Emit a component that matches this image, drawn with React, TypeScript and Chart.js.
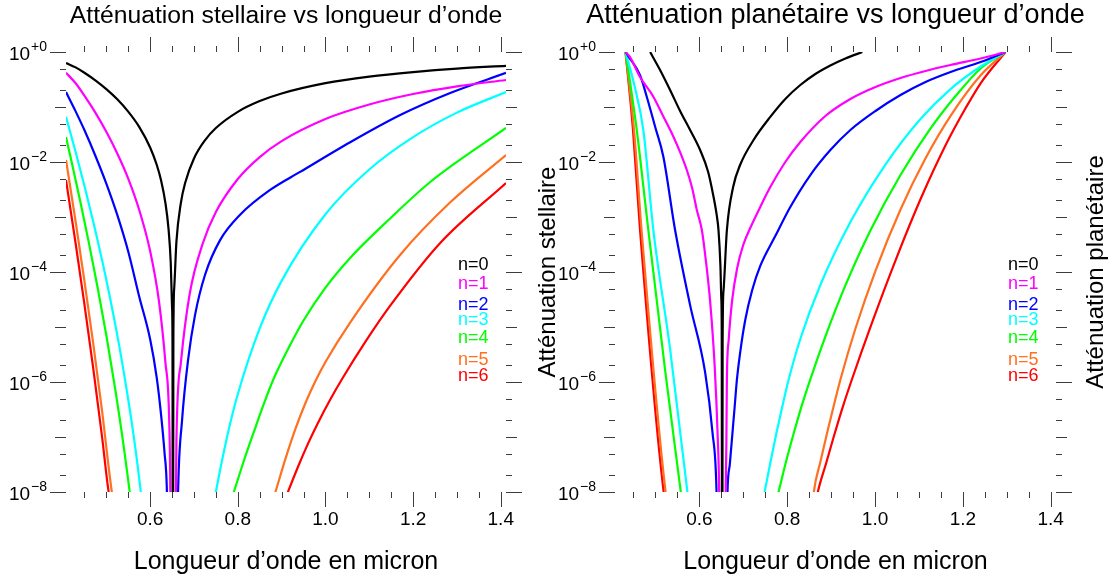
import React, { useEffect, useRef } from "react";
import { Chart, registerables } from "chart.js";

Chart.register(...registerables);

// ---------- series meta ----------
const seriesLabels = ["n=0", "n=1", "n=2", "n=3", "n=4", "n=5", "n=6"];
const seriesColors = ["#000000", "#ff00ff", "#0000ff", "#00ffff", "#00ff00", "#ff7020", "#ff0000"];

// ---------- stellar attenuation (left panel) ----------
const stellarWl0 = [0.408, 0.43, 0.45, 0.475, 0.5, 0.525, 0.55, 0.575, 0.6, 0.615, 0.625, 0.635, 0.642, 0.647, 0.65, 0.651, 0.652, 0.653, 0.655, 0.66, 0.67, 0.68, 0.7, 0.725, 0.75, 0.8, 0.85, 0.9, 1.0, 1.1, 1.2, 1.3, 1.412];
const stellarAtt0 = [0.63, 0.525, 0.42, 0.305, 0.211, 0.138, 0.0825, 0.0436, 0.0184, 0.0089, 0.0046, 0.00177, 6.0e-4, 1.47e-4, 2.3e-5, 5.8e-6, 1e-12, 5.8e-6, 5.2e-5, 3.6e-4, 0.00178, 0.0042, 0.0116, 0.0248, 0.0415, 0.0817, 0.128, 0.176, 0.271, 0.357, 0.432, 0.5, 0.56];

const stellarWl1 = [0.408, 0.43, 0.45, 0.475, 0.5, 0.525, 0.55, 0.575, 0.6, 0.62, 0.635, 0.645, 0.652, 0.66, 0.67, 0.69, 0.72, 0.75, 0.8, 0.85, 0.9, 1.0, 1.1, 1.2, 1.3, 1.412];
const stellarAtt1 = [0.42, 0.27, 0.161, 0.0789, 0.0354, 0.0143, 0.005, 0.00135, 2.4e-4, 3.0e-5, 2.2e-6, 5.8e-8, 1e-14, 9e-8, 2.2e-6, 3.9e-5, 3.3e-4, 0.00123, 0.0049, 0.0123, 0.024, 0.0605, 0.111, 0.172, 0.238, 0.31];

const stellarWl2 = [0.408, 0.43, 0.45, 0.475, 0.5, 0.525, 0.55, 0.575, 0.6, 0.615, 0.625, 0.633, 0.638, 0.652, 0.6637, 0.6728, 0.6865, 0.7025, 0.7253, 0.7596, 0.8053, 0.8737, 0.9422, 1.0564, 1.1706, 1.2847, 1.412];
const stellarAtt2 = [0.187, 0.0833, 0.0381, 0.013, 0.00405, 0.00109, 2.36e-4, 3.6e-5, 6e-6, 1.2e-6, 2.5e-7, 5e-8, 1.2e-8, 1e-14, 1e-8, 2.0e-7, 2.5e-6, 1.66e-5, 8.9e-5, 3.8e-4, 0.0011, 0.0031, 0.0066, 0.0229, 0.0716, 0.18, 0.417];

const stellarWl3 = [0.408, 0.43, 0.45, 0.47, 0.49, 0.51, 0.53, 0.55, 0.565, 0.578, 0.652, 0.74, 0.75, 0.76, 0.78, 0.8, 0.85, 0.9, 1.0, 1.1, 1.2, 1.3, 1.412];
const stellarAtt3 = [0.0661, 0.0152, 0.0037, 8.3e-4, 1.68e-4, 2.95e-5, 4.3e-6, 4.8e-7, 7.4e-8, 1.1e-8, 1e-14, 3.5e-9, 1e-8, 2.6e-8, 1.44e-7, 6.0e-7, 9.4e-6, 6.9e-5, 1.12e-3, 0.0073, 0.0283, 0.079, 0.1875];

const stellarWl4 = [0.408, 0.42, 0.44, 0.46, 0.48, 0.5, 0.52, 0.54, 0.5534, 0.652, 0.7687, 0.7909, 0.8137, 0.8365, 0.8594, 0.8806, 0.9194, 0.9507, 0.9993, 1.0564, 1.15, 1.2391, 1.412];
const stellarAtt4 = [0.0285, 0.0108, 0.00201, 3.46e-4, 5.3e-5, 7.1e-6, 7.7e-7, 6.5e-8, 1e-8, 1e-14, 3.1e-9, 1e-8, 3.66e-8, 1.23e-7, 4.0e-7, 1.09e-6, 4.7e-6, 1.34e-5, 5.1e-5, 1.8e-4, 9.8e-4, 0.00433, 0.0415];

const stellarWl5 = [0.408, 0.43, 0.45, 0.47, 0.49, 0.5126, 0.652, 0.8647, 0.8859, 0.9087, 0.9315, 0.9544, 0.9772, 1.0, 1.0571, 1.1712, 1.2854, 1.412];
const stellarAtt5 = [0.0109, 8.2e-4, 6.9e-5, 5.1e-6, 3.1e-7, 1e-8, 1e-14, 2.85e-9, 1e-8, 4.0e-8, 1.4e-7, 4.15e-7, 1.04e-6, 2.31e-6, 1.23e-5, 2.08e-4, 1.87e-3, 0.0134];

const stellarWl6 = [0.408, 0.43, 0.45, 0.47, 0.49, 0.5053, 0.652, 0.892, 0.9144, 0.9372, 0.96, 0.9829, 1.0107, 1.0393, 1.0906, 1.1478, 1.2619, 1.412];
const stellarAtt6 = [0.0047, 3.3e-4, 2.6e-5, 1.8e-6, 1.05e-7, 1e-8, 1e-14, 3.5e-9, 1e-8, 2.85e-8, 7.5e-8, 1.8e-7, 4.75e-7, 1.18e-6, 5.3e-6, 2.44e-5, 3.37e-4, 0.00415];

// ---------- planetary attenuation (right panel) ----------
const planetWl0 = [0.488, 0.5106, 0.5334, 0.5562, 0.579, 0.6018, 0.6201, 0.6315, 0.6395, 0.6436, 0.648, 0.65, 0.651, 0.652, 0.653, 0.655, 0.6627, 0.6771, 0.693, 0.7234, 0.7615, 0.7957, 0.8299, 0.8641, 0.8983, 0.9325, 0.971];
const planetAtt0 = [1.0, 0.471, 0.204, 0.0846, 0.0382, 0.0165, 0.00658, 0.00251, 0.00109, 5.8e-4, 1.3e-4, 3.3e-5, 8e-6, 1e-14, 5e-6, 4.5e-5, 5.75e-4, 0.00355, 0.0089, 0.0251, 0.066, 0.14, 0.251, 0.398, 0.569, 0.762, 1.0];

const planetWl1 = [0.432, 0.4422, 0.465, 0.4953, 0.5175, 0.541, 0.5562, 0.5715, 0.5836, 0.5943, 0.6057, 0.615, 0.625, 0.635, 0.642, 0.6452, 0.652, 0.66, 0.6616, 0.6627, 0.6668, 0.6748, 0.6862, 0.6999, 0.7159, 0.7387, 0.7615, 0.7957, 0.8299, 0.8869, 0.9439, 1.001, 1.058, 1.115, 1.172, 1.2404, 1.297];
const planetAtt1 = [1.0, 0.81, 0.35, 0.154, 0.0686, 0.0288, 0.0151, 0.00716, 0.00337, 0.00134, 5.8e-4, 1.58e-4, 2.66e-5, 1.9e-6, 9.3e-8, 1e-8, 1e-14, 1e-8, 8.8e-8, 1.09e-6, 5.8e-6, 3.1e-5, 1.18e-4, 3.1e-4, 6.3e-4, 0.00152, 0.0035, 0.01, 0.0231, 0.0686, 0.14, 0.231, 0.337, 0.452, 0.58, 0.762, 1.0];

const planetWl2 = [0.432, 0.44, 0.465, 0.4803, 0.5, 0.5181, 0.5448, 0.579, 0.6132, 0.63, 0.6392, 0.652, 0.6641, 0.6693, 0.6748, 0.6803, 0.6855, 0.6931, 0.7045, 0.7204, 0.7387, 0.7729, 0.8071, 0.8527, 0.8983, 0.9439, 1.001, 1.058, 1.115, 1.172, 1.2404, 1.297];
const planetAtt2 = [1.0, 0.8, 0.38, 0.154, 0.042, 0.0125, 5.8e-4, 2.5e-5, 1.5e-6, 1.2e-7, 1e-8, 1e-14, 1e-8, 3.15e-8, 1.04e-7, 3.44e-7, 1.09e-6, 3.5e-6, 1.34e-5, 4.7e-5, 1.29e-4, 4.5e-4, 0.00152, 0.0058, 0.0165, 0.0382, 0.0846, 0.165, 0.285, 0.433, 0.658, 1.0];

const planetWl3 = [0.432, 0.452, 0.4725, 0.4953, 0.5334, 0.5729, 0.652, 0.7341, 0.7487, 0.7615, 0.7752, 0.7889, 0.8025, 0.8299, 0.8755, 0.9439, 1.0237, 1.1035, 1.1719, 1.2404, 1.297];
const planetAtt3 = [1.0, 0.25, 0.0382, 5.8e-4, 4e-6, 1e-8, 1e-14, 2.5e-9, 1e-8, 3.37e-8, 1.15e-7, 3.57e-7, 1.04e-6, 6.05e-6, 5.8e-5, 8.1e-4, 0.009, 0.0605, 0.212, 0.545, 1.0];

const planetWl4 = [0.432, 0.445, 0.4575, 0.4839, 0.522, 0.5578, 0.652, 0.766, 0.7802, 0.7979, 0.8162, 0.8344, 0.8527, 0.8869, 0.9325, 0.9895, 1.058, 1.1264, 1.1834, 1.2404, 1.297];
const planetAtt4 = [1.0, 0.2, 0.0382, 5.8e-4, 1.66e-6, 1e-8, 1e-14, 3.8e-9, 1e-8, 3.7e-8, 1.27e-7, 4.0e-7, 1.12e-6, 6.7e-6, 5.7e-5, 5.7e-4, 0.0058, 0.0407, 0.158, 0.501, 1.0];

const planetWl5 = [0.432, 0.4513, 0.4684, 0.5232, 0.652, 0.8551, 0.8607, 0.8755, 0.8915, 0.9074, 0.9211, 0.9553, 1.001, 1.058, 1.115, 1.172, 1.2404, 1.297];
const planetAtt5 = [1.0, 0.0382, 5.8e-4, 1e-8, 1e-14, 3.1e-9, 1e-8, 3.5e-8, 1.24e-7, 4.1e-7, 1.1e-6, 9.3e-6, 1.05e-4, 0.00137, 0.0117, 0.069, 0.377, 1.0];

const planetWl6 = [0.432, 0.449, 0.465, 0.5188, 0.652, 0.8596, 0.8698, 0.888, 0.9063, 0.9268, 0.9473, 0.9907, 1.0476, 1.1047, 1.1617, 1.2073, 1.2404, 1.297];
const planetAtt6 = [1.0, 0.0382, 5.8e-4, 1e-8, 1e-14, 3.5e-9, 1e-8, 3.2e-8, 1.03e-7, 3.57e-7, 1.11e-6, 1.06e-5, 1.7e-4, 0.00221, 0.021, 0.0988, 0.27, 1.0];

// ---------- axes ----------
const xMin = 0.408;
const xMax = 1.412;
const yMin = 1e-8;
const yMax = 1;
const xMajorTicks = [0.6, 0.8, 1.0, 1.2, 1.4];
const xTickLabels = ["0.6", "0.8", "1.0", "1.2", "1.4"];
const xMinorTicks = [0.45, 0.5, 0.55, 0.65, 0.7, 0.75, 0.85, 0.9, 0.95, 1.05, 1.1, 1.15, 1.25, 1.3, 1.35];
const yMajorTicks = [1, 1e-2, 1e-4, 1e-6, 1e-8];
const yTickExponents = ["+0", "\u22122", "\u22124", "\u22126", "\u22128"];
const yMidTicks = [1e-1, 1e-3, 1e-5, 1e-7];
const yMinorTicks = [0.5, 0.2, 0.05, 0.02, 5e-3, 2e-3, 5e-4, 2e-4, 5e-5, 2e-5, 5e-6, 2e-6, 5e-7, 2e-7, 5e-8, 2e-8];

const xTitle = "Longueur d\u2019onde en micron";
const leftTitle = "Att\u00e9nuation stellaire vs longueur d\u2019onde";
const rightTitle = "Att\u00e9nuation plan\u00e9taire vs longueur d\u2019onde";
const leftYTitle = "Att\u00e9nuation stellaire";
const rightYTitle = "Att\u00e9nuation plan\u00e9taire";

const FONT = '"Liberation Sans", Arial, Helvetica, sans-serif';
const legendOffsets = [213, 232, 253, 268, 286, 308, 324];

const decorPlugin = {
  id: "decor",
  afterDraw(chart: any, _args: any, opts: any) {
    const { ctx, chartArea } = chart;
    const { left, right, top, bottom } = chartArea;
    const xs = chart.scales.x;
    const ys = chart.scales.y;
    ctx.save();
    ctx.strokeStyle = "#3c3c3c";
    ctx.lineWidth = 1;
    const seg = (x1: number, y1: number, x2: number, y2: number) => {
      ctx.beginPath();
      ctx.moveTo(x1, y1);
      ctx.lineTo(x2, y2);
      ctx.stroke();
    };
    const xTick = (v: number, len: number) => {
      const p = Math.round(xs.getPixelForValue(v)) + 0.5;
      seg(p, bottom, p, bottom + len);
      seg(p, top, p, top - len);
    };
    xMinorTicks.forEach((v) => xTick(v, 6));
    xMajorTicks.forEach((v) => xTick(v, 15));
    const yTick = (v: number, len: number) => {
      const p = Math.round(ys.getPixelForValue(v)) + 0.5;
      seg(left - len, p, left, p);
      seg(right, p, right + len, p);
    };
    yMinorTicks.forEach((v) => yTick(v, 6));
    yMidTicks.forEach((v) => yTick(v, 11));
    yMajorTicks.forEach((v) => yTick(v, 16));

    ctx.fillStyle = "#000";
    ctx.textBaseline = "alphabetic";
    ctx.font = `19px ${FONT}`;
    ctx.textAlign = "center";
    xMajorTicks.forEach((v, i) => ctx.fillText(xTickLabels[i], xs.getPixelForValue(v), bottom + 33));
    ctx.textAlign = "left";
    yMajorTicks.forEach((v, i) => {
      const p = ys.getPixelForValue(v);
      ctx.font = `14px ${FONT}`;
      const ew = ctx.measureText(yTickExponents[i]).width;
      ctx.font = `19px ${FONT}`;
      const bw = ctx.measureText("10").width;
      const rx = left - 19;
      ctx.fillText("10", rx - ew - bw - 1, p + 7.5);
      ctx.font = `14px ${FONT}`;
      ctx.fillText(yTickExponents[i], rx - ew, p - 1);
    });
    ctx.textAlign = "center";
    const cx = (left + right) / 2;
    ctx.font = `${opts.titleSize}px ${FONT}`;
    ctx.fillText(opts.title, cx, 23);
    ctx.font = `25px ${FONT}`;
    ctx.fillText(xTitle, cx, 569);
    ctx.font = `24px ${FONT}`;
    ctx.save();
    ctx.translate(opts.yTitleX, (top + bottom) / 2);
    ctx.rotate(-Math.PI / 2);
    ctx.fillText(opts.yTitle, 0, 0);
    ctx.restore();
    ctx.font = `18px ${FONT}`;
    ctx.textAlign = "left";
    ctx.textBaseline = "middle";
    seriesLabels.forEach((lab, i) => {
      ctx.fillStyle = seriesColors[i];
      ctx.fillText(lab, right - 48, top + legendOffsets[i]);
    });
    ctx.restore();
  },
};

const toPoints = (wl: number[], att: number[]) => wl.map((x, i) => ({ x, y: att[i] }));

function makeDatasets(wls: number[][], atts: number[][]) {
  return wls.map((wl, i) => ({
    label: seriesLabels[i],
    data: toPoints(wl, atts[i]),
    borderColor: seriesColors[i],
    backgroundColor: seriesColors[i],
    borderWidth: 2.2,
    pointRadius: 0,
    fill: false,
    cubicInterpolationMode: "monotone" as const,
  }));
}

const stellarWls = [stellarWl0, stellarWl1, stellarWl2, stellarWl3, stellarWl4, stellarWl5, stellarWl6];
const stellarAtts = [stellarAtt0, stellarAtt1, stellarAtt2, stellarAtt3, stellarAtt4, stellarAtt5, stellarAtt6];
const planetWls = [planetWl0, planetWl1, planetWl2, planetWl3, planetWl4, planetWl5, planetWl6];
const planetAtts = [planetAtt0, planetAtt1, planetAtt2, planetAtt3, planetAtt4, planetAtt5, planetAtt6];

type PanelProps = {
  x: number;
  width: number;
  padding: { left: number; right: number; top: number; bottom: number };
  datasets: any[];
  title: string;
  titleSize: number;
  yTitle: string;
  yTitleX: number;
};

function Panel(props: PanelProps) {
  const ref = useRef<HTMLCanvasElement | null>(null);
  useEffect(() => {
    if (!ref.current) return;
    const chart = new Chart(ref.current, {
      type: "line",
      data: { datasets: props.datasets },
      options: {
        responsive: false,
        animation: false,
        events: [],
        layout: { padding: props.padding },
        scales: {
          x: { type: "linear", min: xMin, max: xMax, display: false },
          y: { type: "logarithmic", min: yMin, max: yMax, display: false },
        },
        plugins: {
          legend: { display: false },
          tooltip: { enabled: false },
          decor: { title: props.title, titleSize: props.titleSize, yTitle: props.yTitle, yTitleX: props.yTitleX },
        } as any,
      },
      plugins: [decorPlugin],
    } as any);
    return () => chart.destroy();
  }, []);
  return (
    <canvas
      ref={ref}
      width={props.width}
      height={580}
      style={{ position: "absolute", left: props.x, top: 0, width: props.width, height: 580 }}
    />
  );
}

export default function App() {
  return (
    <div style={{ position: "absolute", left: 0, top: 0, width: 1109, height: 580, background: "#fff", overflow: "hidden" }}>
      <Panel
        x={0}
        width={558}
        padding={{ left: 66, right: 52, top: 52, bottom: 88 }}
        datasets={makeDatasets(stellarWls, stellarAtts)}
        title={leftTitle}
        titleSize={24.7}
        yTitle={leftYTitle}
        yTitleX={555}
      />
      <Panel
        x={558}
        width={551}
        padding={{ left: 57, right: 53, top: 52, bottom: 88 }}
        datasets={makeDatasets(planetWls, planetAtts)}
        title={rightTitle}
        titleSize={27}
        yTitle={rightYTitle}
        yTitleX={545}
      />
    </div>
  );
}
